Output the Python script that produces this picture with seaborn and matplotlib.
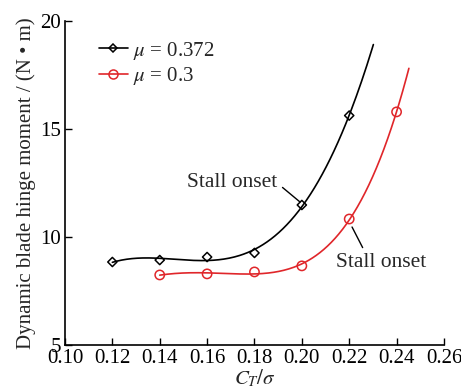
import numpy as np
import pandas as pd
import matplotlib
matplotlib.use('Agg')
import matplotlib.pyplot as plt
import seaborn as sns
from matplotlib.lines import Line2D

# data
ct_372 = [0.12, 0.14, 0.16, 0.18, 0.20, 0.22]
m_372 = [8.84, 8.93, 9.07, 9.26, 11.48, 15.62]
ct_30 = [0.14, 0.16, 0.18, 0.20, 0.22, 0.24]
m_30 = [8.24, 8.29, 8.38, 8.66, 10.83, 15.79]
xticks = [0.10, 0.12, 0.14, 0.16, 0.18, 0.20, 0.22, 0.24, 0.26]
yticks = [5, 10, 15, 20]

sns.set_style('ticks')
plt.rcParams['font.family'] = ['Liberation Serif', 'DejaVu Serif']
plt.rcParams['mathtext.fontset'] = 'stix'

red = '#e0262a'
fs = 15

def fit_curve(x, y, x_end):
    coef = np.polyfit(x, y, 4)
    xs = np.linspace(x[0], x_end, 200)
    return pd.DataFrame({'x': xs, 'y': np.polyval(coef, xs)})

c1 = fit_curve(ct_372, m_372, 0.2302)
c2 = fit_curve(ct_30, m_30, 0.2452)

fig = plt.figure(figsize=(4.61, 3.88), dpi=100)
ax = fig.add_axes([0.141, 0.111, 0.822, 0.835])

sns.lineplot(data=c1, x='x', y='y', color='black', lw=1.2, ax=ax)
sns.lineplot(data=c2, x='x', y='y', color=red, lw=1.2, ax=ax)
sns.scatterplot(x=ct_372, y=m_372, marker='D', s=22, facecolor='none',
                edgecolor='black', linewidth=1.1, ax=ax, zorder=3)
sns.scatterplot(x=ct_30, y=m_30, marker='o', s=45, facecolor='none',
                edgecolor=red, linewidth=1.1, ax=ax, zorder=3)

ax.set_xlim(0.10, 0.26)
ax.set_ylim(5, 20)
ax.set_xticks(xticks)
ax.set_xticklabels([f'{v:.2f}' for v in xticks])
ax.set_yticks(yticks)
ax.tick_params(direction='in', length=5, width=1, labelsize=fs, colors='black', pad=3)
for s in ['top', 'right']:
    ax.spines[s].set_visible(False)
for s in ['left', 'bottom']:
    ax.spines[s].set_linewidth(1.2)
    ax.spines[s].set_color('black')

ax.set_xlabel(r'$C_T/\sigma$', fontsize=fs, labelpad=0)
ax.set_ylabel('Dynamic blade hinge moment / (N • m)', fontsize=fs, labelpad=3)

handles = [
    Line2D([], [], color='black', lw=1.2, marker='D', ms=4.5, mfc='none', mew=1.1),
    Line2D([], [], color=red, lw=1.2, marker='o', ms=6.5, mfc='none', mew=1.1),
]
ax.legend(handles, [r'$\mu$ = 0.372', r'$\mu$ = 0.3'], loc='upper left',
          bbox_to_anchor=(0.04, 1.0), frameon=False, fontsize=fs,
          handlelength=1.4, handletextpad=0.25, labelspacing=0.15)

ax.annotate('Stall onset', xy=(0.1992, 11.62), xytext=(0.1705, 12.5),
            ha='center', va='center', fontsize=15.5,
            arrowprops=dict(arrowstyle='-', color='black', lw=1, relpos=(1.0, 0.5),
                            shrinkA=2, shrinkB=0))
ax.annotate('Stall onset', xy=(0.2212, 10.46), xytext=(0.2334, 8.8),
            ha='center', va='center', fontsize=15.5,
            arrowprops=dict(arrowstyle='-', color='black', lw=1, relpos=(0.33, 1.0),
                            shrinkA=2, shrinkB=0))

fig.savefig('out.png', dpi=100)
